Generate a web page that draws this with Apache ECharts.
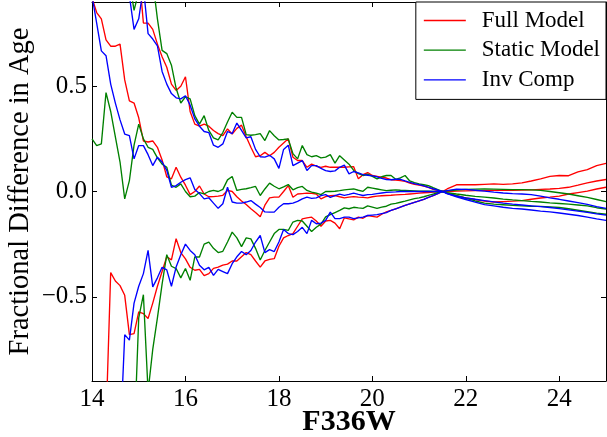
<!DOCTYPE html>
<html>
<head>
<meta charset="utf-8">
<script src="https://cdn.jsdelivr.net/npm/echarts@6/dist/echarts.min.js"></script>
<style>
html,body{margin:0;padding:0;background:#fff;overflow:hidden;}
#chart{width:607px;height:437px;}
</style>
</head>
<body>
<div id="chart"></div>
<script>
// F336W magnitudes (x positions of the sampled points)
var xs = [14.0,14.1,14.2,14.3,14.4,14.5,14.6,14.7,14.8,14.9,
  15.0,15.1,15.2,15.3,15.4,15.5,15.6,15.7,15.8,15.9,
  16.0,16.1,16.2,16.3,16.4,16.5,16.6,16.7,16.8,16.9,
  17.0,17.1,17.2,17.3,17.4,17.5,17.6,17.7,17.8,17.9,
  18.0,18.1,18.2,18.3,18.4,18.5,18.6,18.7,18.8,18.9,
  19.0,19.1,19.2,19.3,19.4,19.5,19.6,19.7,19.8,19.9,
  20.0,20.1,20.2,20.3,20.4,20.5,20.6,20.7,20.8,20.9,
  21.0,21.1,21.2,21.3,21.4,21.5,
  21.6,21.8,22.0,22.2,22.4,22.6,22.8,23.0,23.2,23.4,23.6,23.8,24.0,24.2,24.4,24.6,24.8,25.0];

// Full Model (red)
var fullUpper = [1.1,1.1,1.1,1.1,1.1,1.1,1.1,1.1,1.1,1.1,
  1.05,0.80,0.80,0.77,0.70,0.64,0.59,0.51,0.48,0.50,
  0.545,0.38,0.32,0.31,0.32,0.31,0.29,0.275,0.265,0.297,
  0.273,0.30,0.315,0.26,0.21,0.165,0.17,0.186,0.17,0.186,
  0.21,0.23,0.25,0.163,0.147,0.147,0.115,0.13,0.12,0.115,
  0.12,0.115,0.115,0.115,0.115,0.117,0.118,0.06,0.08,0.09,
  0.076,0.072,0.068,0.064,0.056,0.054,0.052,0.048,0.04,0.034,
  0.03,0.026,0.02,0.01,0.005,0,
  0.012,0.032,0.033,0.032,0.034,0.036,0.034,0.036,0.041,0.05,0.06,0.072,0.076,0.075,0.093,0.104,0.123,0.134];
var fullMid = [0.92,0.85,0.82,0.72,0.69,0.69,0.70,0.53,0.43,0.42,
  0.35,0.24,0.235,0.24,0.21,0.15,0.07,0.06,0.115,0.068,
  0.03,-0.015,0.0,0.026,-0.012,-0.025,-0.024,-0.022,-0.018,0.005,
  0.0,-0.025,-0.045,-0.062,-0.082,-0.1,-0.12,-0.065,-0.03,-0.027,
  -0.027,0.0,0.028,-0.027,-0.012,-0.01,-0.008,-0.009,-0.012,-0.035,
  -0.024,-0.02,-0.019,-0.025,-0.03,-0.027,-0.024,-0.027,-0.028,-0.03,
  -0.025,-0.022,-0.02,-0.019,-0.018,-0.016,-0.015,-0.014,-0.012,-0.01,
  -0.008,-0.006,-0.005,-0.003,-0.002,0,
  0.0,0.002,0.003,0.004,0.004,0.005,0.005,0.006,0.007,0.008,0.01,0.012,0.015,0.02,0.03,0.041,0.05,0.057];
var fullLower = [-1.2,-1.2,-1.2,-1.1,-0.385,-0.425,-0.447,-0.493,-0.68,-0.675,
  -0.572,-0.58,-0.603,-0.53,-0.45,-0.38,-0.31,-0.325,-0.224,-0.29,
  -0.32,-0.36,-0.374,-0.37,-0.4,-0.39,-0.365,-0.359,-0.35,-0.345,
  -0.33,-0.33,-0.31,-0.29,-0.3,-0.33,-0.359,-0.33,-0.322,-0.319,
  -0.26,-0.22,-0.209,-0.2,-0.165,-0.13,-0.125,-0.122,-0.14,-0.165,
  -0.14,-0.137,-0.15,-0.177,-0.125,-0.13,-0.135,-0.122,-0.127,-0.114,
  -0.118,-0.122,-0.108,-0.097,-0.09,-0.082,-0.074,-0.066,-0.059,-0.052,
  -0.045,-0.037,-0.028,-0.02,-0.01,0,
  -0.008,-0.02,-0.03,-0.038,-0.046,-0.05,-0.048,-0.046,-0.043,-0.037,-0.031,-0.027,-0.022,-0.012,-0.005,0.002,0.012,0.02];

// Static Model (green)
var staticUpper = [1.1,1.1,1.1,1.1,1.1,1.1,1.1,1.1,1.0,0.86,
  0.95,1.05,1.05,1.0,0.82,0.67,0.655,0.6,0.49,0.42,
  0.45,0.44,0.36,0.32,0.36,0.29,0.255,0.245,0.28,0.33,
  0.376,0.352,0.352,0.27,0.267,0.27,0.275,0.242,0.289,0.265,
  0.245,0.247,0.25,0.18,0.155,0.218,0.175,0.165,0.17,0.16,
  0.163,0.175,0.135,0.17,0.15,0.13,0.1,0.085,0.076,0.082,
  0.072,0.06,0.07,0.076,0.076,0.058,0.065,0.076,0.05,0.042,
  0.036,0.032,0.028,0.018,0.009,0,
  0.003,0.007,0.01,0.011,0.012,0.011,0.01,0.009,0.009,0.008,0.005,0.0,-0.006,-0.012,-0.02,-0.028,-0.038,-0.048];
var staticMid = [0.25,0.218,0.226,0.47,0.38,0.26,0.14,-0.035,0.052,0.22,
  0.32,0.25,0.21,0.2,0.16,0.13,0.115,0.03,0.02,0.036,
  0.0,-0.025,-0.022,-0.005,-0.011,0.0,0.005,0.0,0.01,0.055,
  0.071,0.005,0.01,0.013,0.018,0.024,-0.019,0.012,0.04,0.025,
  0.013,0.022,0.033,0.008,0.018,0.024,0.005,-0.003,-0.008,-0.015,
  0.0,0.0,0.001,0.004,0.008,0.01,0.012,0.006,0.001,0.02,
  0.016,0.012,0.008,0.004,0.006,0.008,0.006,0.005,0.004,0.003,
  0.001,0.001,0.001,0.0,0.0,0,
  -0.005,-0.012,-0.018,-0.023,-0.027,-0.031,-0.036,-0.04,-0.043,-0.047,-0.05,-0.054,-0.057,-0.06,-0.064,-0.068,-0.077,-0.084];
var staticLower = [-1.2,-1.2,-1.2,-1.2,-1.2,-1.2,-1.2,-1.2,-1.2,-1.2,
  -0.6,-0.49,-0.95,-0.75,-0.6,-0.44,-0.3,-0.355,-0.366,-0.41,
  -0.366,-0.422,-0.311,-0.311,-0.25,-0.24,-0.27,-0.29,-0.284,-0.24,
  -0.193,-0.22,-0.262,-0.22,-0.225,-0.27,-0.325,-0.28,-0.24,-0.2,
  -0.18,-0.18,-0.185,-0.145,-0.137,-0.14,-0.165,-0.19,-0.17,-0.155,
  -0.12,-0.11,-0.1,-0.09,-0.078,-0.082,-0.075,-0.078,-0.08,-0.068,
  -0.074,-0.08,-0.074,-0.07,-0.06,-0.056,-0.051,-0.046,-0.04,-0.034,
  -0.03,-0.025,-0.018,-0.012,-0.006,0,
  -0.008,-0.02,-0.032,-0.045,-0.055,-0.06,-0.063,-0.066,-0.068,-0.07,-0.071,-0.073,-0.076,-0.082,-0.089,-0.096,-0.103,-0.108];

// Inv Comp (blue)
var invUpper = [1.1,1.1,1.1,1.1,1.1,1.1,1.1,1.1,0.93,0.77,
  0.82,0.97,0.75,0.724,0.692,0.57,0.51,0.465,0.445,0.44,
  0.455,0.41,0.345,0.31,0.285,0.28,0.22,0.21,0.226,0.285,
  0.275,0.325,0.29,0.255,0.26,0.2,0.165,0.163,0.172,0.155,
  0.11,0.2,0.22,0.123,0.135,0.147,0.1,0.123,0.123,0.11,
  0.099,0.095,0.098,0.115,0.125,0.084,0.095,0.088,0.08,0.077,
  0.074,0.07,0.062,0.057,0.056,0.058,0.058,0.05,0.043,0.037,
  0.033,0.027,0.02,0.013,0.007,0,
  0.004,0.011,0.01,0.006,0.002,-0.003,-0.007,-0.01,-0.012,-0.015,-0.022,-0.03,-0.037,-0.045,-0.053,-0.061,-0.072,-0.08];
var invMid = [0.93,0.80,0.668,0.645,0.51,0.42,0.34,0.273,0.265,0.155,
  0.218,0.218,0.175,0.123,0.163,0.14,0.1,0.02,0.028,0.044,
  0.056,0.065,0.01,-0.01,-0.035,-0.03,-0.055,-0.08,-0.058,0.02,
  -0.05,-0.055,-0.055,-0.05,-0.043,-0.06,-0.076,-0.097,-0.098,-0.098,
  -0.075,-0.058,-0.058,-0.055,-0.047,-0.035,-0.027,-0.033,-0.03,-0.02,
  -0.015,-0.028,-0.02,-0.012,-0.018,-0.014,-0.008,-0.014,-0.019,-0.015,
  -0.014,-0.01,-0.007,-0.004,-0.003,-0.002,0.0,0.0,0.0,0.0,
  0.0,0.0,0.0,0.0,0.0,0,
  -0.01,-0.022,-0.03,-0.037,-0.043,-0.049,-0.055,-0.06,-0.064,-0.068,-0.072,-0.076,-0.081,-0.087,-0.093,-0.099,-0.106,-0.112];
var invLower = [-1.2,-1.2,-1.2,-1.2,-1.2,-1.2,-1.2,-0.68,-0.706,-0.53,
  -0.45,-0.39,-0.28,-0.453,-0.41,-0.36,-0.372,-0.45,-0.359,-0.3,
  -0.25,-0.28,-0.3,-0.35,-0.372,-0.36,-0.398,-0.37,-0.38,-0.39,
  -0.343,-0.31,-0.285,-0.3,-0.28,-0.24,-0.209,-0.29,-0.276,-0.285,
  -0.24,-0.18,-0.2,-0.205,-0.19,-0.17,-0.2,-0.137,-0.153,-0.15,
  -0.137,-0.098,-0.129,-0.129,-0.122,-0.122,-0.129,-0.125,-0.122,-0.114,
  -0.112,-0.11,-0.105,-0.1,-0.09,-0.082,-0.074,-0.066,-0.059,-0.052,
  -0.045,-0.037,-0.028,-0.02,-0.01,0,
  -0.01,-0.025,-0.038,-0.05,-0.062,-0.068,-0.075,-0.08,-0.083,-0.088,-0.093,-0.097,-0.102,-0.108,-0.114,-0.122,-0.13,-0.137];

var seriesNames = ['Full Model','Static Model','Inv Comp'];
var seriesColors = ['#ff0000','#008000','#0000ff'];
var yTicks = [-0.5, 0, 0.5];

var FONT = '"Liberation Serif", "DejaVu Serif", serif';

function pairs(arr){ return xs.map(function(x,i){ return [x, arr[i]]; }); }
function mk(name, color, arr){
  return {type:'line', name:name, data:pairs(arr), symbol:'none', showSymbol:false,
    lineStyle:{color:color, width:1.35}, itemStyle:{color:color}, clip:true, animation:false};
}
var groups = [[fullUpper,fullMid,fullLower],[staticUpper,staticMid,staticLower],[invUpper,invMid,invLower]];
var series = [];
groups.forEach(function(g,k){ g.forEach(function(a){ series.push(mk(seriesNames[k], seriesColors[k], a)); }); });

function fmtY(v){ var s = Number(v).toFixed(1); return s.charAt(0)==='-' ? '\u2212'+s.slice(1) : s; }

var axisLineStyle = {show:true, onZero:false, lineStyle:{color:'#000', width:1}};
var tickStyle = {show:true, inside:true, length:5, lineStyle:{color:'#000', width:1}};

var chart = echarts.init(document.getElementById('chart'), null, {renderer:'canvas'});
chart.setOption({
  animation:false,
  backgroundColor:'#fff',
  grid:{left:92, right:1, top:2, bottom:56, containLabel:false, outerBoundsMode:'none'},
  xAxis:[
    {type:'value', min:14, max:25, interval:2, position:'bottom',
      axisLine:axisLineStyle, axisTick:tickStyle, splitLine:{show:false},
      axisLabel:{fontFamily:FONT, fontSize:25, color:'#000', margin:6, showMaxLabel:false},
      name:'F336W', nameLocation:'middle', nameGap:26, nameMoveOverlap:false,
      nameTextStyle:{fontFamily:FONT, fontSize:30, fontWeight:'bold', color:'#000', verticalAlign:'top'}},
    {type:'value', min:14, max:25, interval:2, position:'top',
      axisLine:axisLineStyle, axisTick:tickStyle, splitLine:{show:false}, axisLabel:{show:false}}
  ],
  yAxis:[
    {type:'value', min:-0.9, max:0.9, position:'left',
      axisLine:axisLineStyle,
      axisTick:{show:true, inside:true, length:5, lineStyle:{color:'#000'}, customValues:yTicks},
      splitLine:{show:false},
      axisLabel:{fontFamily:FONT, fontSize:25, color:'#000', margin:5, customValues:yTicks, formatter:fmtY},
      name:'Fractional Difference in Age', nameLocation:'middle', nameGap:57, nameMoveOverlap:false,
      nameTextStyle:{fontFamily:FONT, fontSize:28.5, fontWeight:'normal', color:'#000'}},
    {type:'value', min:-0.9, max:0.9, position:'right',
      axisLine:axisLineStyle,
      axisTick:{show:true, inside:true, length:5, lineStyle:{color:'#000'}, customValues:yTicks},
      splitLine:{show:false}, axisLabel:{show:false}}
  ],
  legend:{
    show:true, orient:'vertical', right:1, top:2,
    backgroundColor:'#fff', borderColor:'#000', borderWidth:1,
    padding:[7,6,8,8], itemGap:6.7, itemWidth:42, itemHeight:1.3, icon:'rect',
    textStyle:{fontFamily:FONT, fontSize:23, color:'#000', lineHeight:22, padding:[0,0,0,11]},
    data:seriesNames.map(function(n){ return {name:n}; })
  },
  series:series
});
</script>
</body>
</html>
